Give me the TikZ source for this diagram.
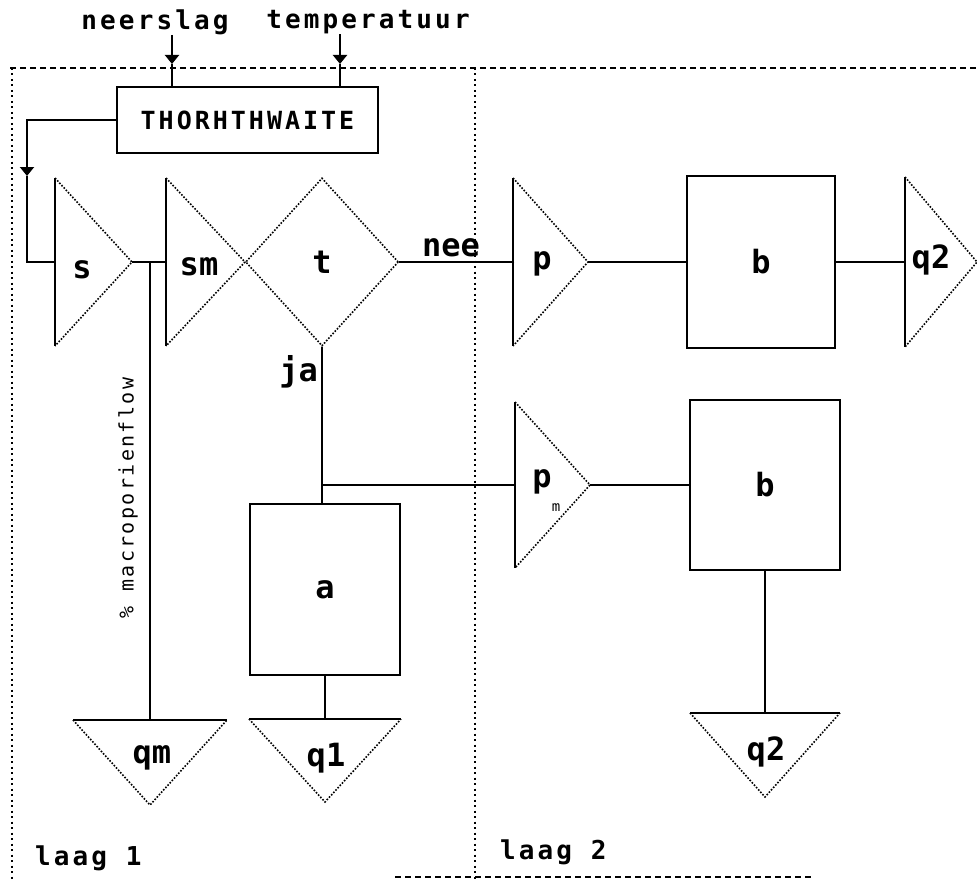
\documentclass[tikz,border=0pt]{standalone}
\usepackage{fontspec}
\usetikzlibrary{positioning,arrows.meta,shapes.geometric}
\newfontfamily\pixfont{DejaVu Sans Mono}
\newfontfamily\widefont[LetterSpace=12]{DejaVu Sans Mono}

\tikzset{
  pics/rtri/.style n args={2}{code={
    \coordinate (-base) at (0,0);
    \coordinate (-tip) at (#2,0);
    \draw[solidedge] (0,-#1) -- (0,#1);
    \draw[dotside] (0,-#1) -- (-tip) -- (0,#1);
  }},
  pics/dtri/.style n args={2}{code={
    \coordinate (-top) at (0,0);
    \draw[solidedge] (-#1,0) -- (#1,0);
    \draw[dotside] (-#1,0) -- (0,#2) -- (#1,0);
  }},
}

\begin{document}
\begin{tikzpicture}[
    x=1pt, y=-1pt,
    solidedge/.style={line width=2.2pt},
    dotside/.style={line width=1.6pt, dash pattern=on 1.6pt off 1.6pt},
    link/.style={line width=2pt},
    arr/.style={link, -{Triangle[length=9pt, width=14pt]}},
    box/.style={draw, line width=2.2pt, inner sep=0pt, font=\pixfont\bfseries\fontsize{32}{36}\selectfont},
    lbl/.style={inner sep=0pt, font=\pixfont\bfseries\fontsize{32}{36}\selectfont},
    txt/.style={inner sep=0pt, font=\widefont\bfseries\fontsize{26}{30}\selectfont},
    hframe/.style={line width=1.6pt, dash pattern=on 6pt off 4pt},
    vframe/.style={line width=1.6pt, dash pattern=on 2pt off 3.5pt}
]
    \useasboundingbox (0,0) rectangle (977,880);

    % laag frames
    \draw[hframe] (10,68) -- (977,68);
    \draw[vframe] (12,68) -- (12,880);
    \draw[vframe] (475,68) -- (475,880);
    \draw[hframe] (395,877) -- (812,877);
    \node[txt, anchor=west] (laag1) at (35,858) {laag 1};
    \node[txt, anchor=west] (laag2) at (500,852) {laag 2};

    % inputs
    \node[txt] (ns) at (155,22) {neerslag};
    \node[txt] (temp) at (368,22) {temperatuur};
    \node[box, minimum width=261pt, minimum height=66pt, font=\widefont\bfseries\fontsize{25}{29}\selectfont] (thw) at (247.5,120) {THORHTHWAITE};
    \coordinate (nsin) at (172,64);
    \coordinate (tpin) at (340,64);
    \draw[arr] (ns.south -| nsin) -- (nsin);
    \draw[link] (nsin) -- (thw.north -| nsin);
    \draw[arr] (temp.south -| tpin) -- (tpin);
    \draw[link] (tpin) -- (thw.north -| tpin);

    % laag 1
    \pic (s) at (55,262) {rtri={84}{77}};
    \pic (sm) at (166,262) {rtri={84}{79}};
    \node[diamond, draw, dotside, minimum width=153pt, minimum height=168pt, inner sep=0pt] (t) at (322,262) {};
    \node[lbl] (slbl) at (82,270) {s};
    \node[lbl] (smlbl) at (199,267) {sm};
    \node[lbl] (tlbl) at (322,262) {t};
    \node[box, minimum width=150pt, minimum height=171pt] (a) at (325,589.5) {a};
    \pic (qm) at (150,720) {dtri={77}{85}};
    \pic (q1) at (325,719) {dtri={76}{83}};
    \node[lbl] (qmlbl) at (152,758) {qm};
    \node[lbl] (q1lbl) at (326,758) {q1};

    \coordinate (fb) at (27,176);
    \draw[arr] (thw.west) -| (fb);
    \draw[link] (fb) |- (s-base);
    \draw[link] (s-tip) -- (sm-base);
    \coordinate (mf) at (150,262);
    \draw[link] (mf) -- (qm-top);
    \node[inner sep=0pt, rotate=90, font=\widefont\fontsize{20}{24}\selectfont] (mflbl) at (128,498) {\% macroporienflow};
    \draw[link] (t.east) -- node[lbl, above=4pt, pos=0.45] (nee) {nee} ++(115,0) coordinate (pin);
    \draw[link] (t.south) -- (t.south |- a.north);
    \node[lbl, anchor=east] (ja) at (318,372) {ja};
    \coordinate (jn) at (322,485);
    \draw[link] (a.south) -- (q1-top);

    % laag 2
    \pic (p) at (513,262) {rtri={84}{75}};
    \pic (pm) at (515,485) {rtri={83}{75}};
    \pic (q2r) at (905,262) {rtri={85}{72}};
    \node[lbl] (plbl) at (542,264) {p};
    \node[lbl] (pmlbl) at (542,482) {p};
    \node[inner sep=0pt, font=\pixfont\fontsize{14}{16}\selectfont] (msub) at (556,508) {m};
    \node[lbl] (q2rlbl) at (931,260) {q2};
    \node[box, minimum width=148pt, minimum height=172pt] (b1) at (761,262) {b};
    \node[box, minimum width=150pt, minimum height=170pt] (b2) at (765,485) {b};
    \pic (q2d) at (765,713) {dtri={75}{84}};
    \node[lbl] (q2dlbl) at (766,752) {q2};

    \draw[link] (pin) -- (p-base);
    \draw[link] (jn) -- (pm-base);
    \draw[link] (p-tip) -- (b1.west);
    \draw[link] (b1.east) -- (q2r-base);
    \draw[link] (pm-tip) -- (b2.west);
    \draw[link] (b2.south) -- (q2d-top);
\end{tikzpicture}
\end{document}
